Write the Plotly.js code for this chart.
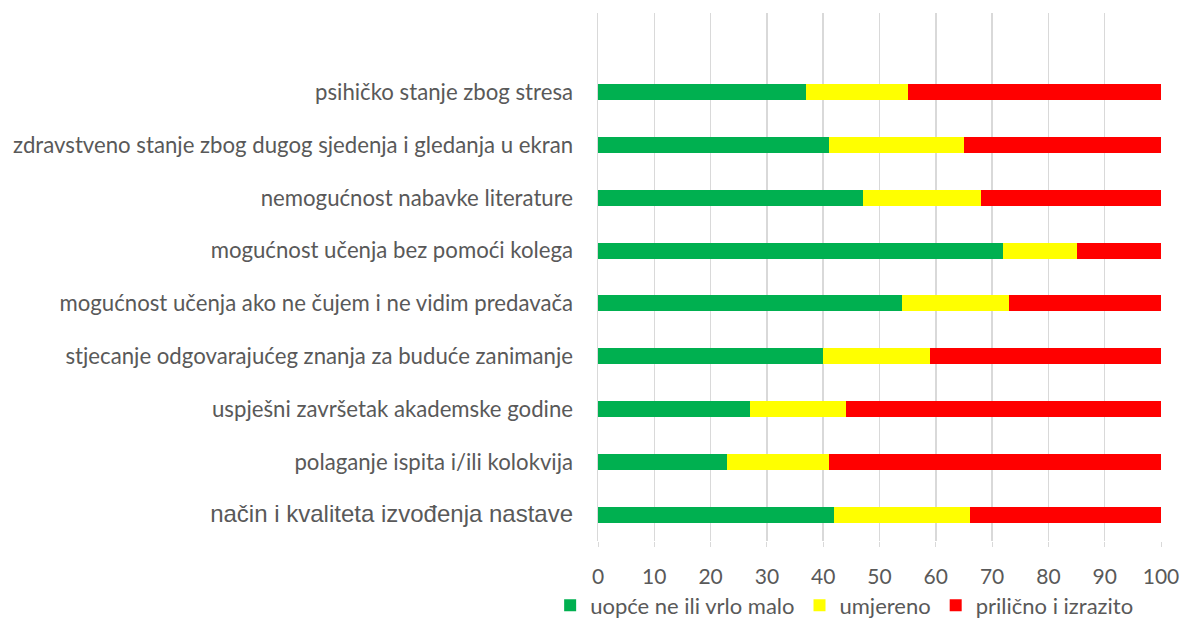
<!DOCTYPE html>
<html><head><meta charset="utf-8">
<script src="https://cdn.plot.ly/plotly-3.0.1.min.js"></script>
<style>html,body{margin:0;padding:0;background:#fff}#chart{width:1186px;height:620px}</style>
</head><body><div id="chart"></div>
<script>
const categories = [
  'način i kvaliteta izvođenja nastave',
  'polaganje ispita i/ili kolokvija',
  'uspješni završetak akademske godine',
  'stjecanje odgovarajućeg znanja za buduće zanimanje',
  'mogućnost učenja ako ne čujem i ne vidim predavača',
  'mogućnost učenja bez pomoći kolega',
  'nemogućnost nabavke literature',
  'zdravstveno stanje zbog dugog sjedenja i gledanja u ekran',
  'psihičko stanje zbog stresa'
];
const lowValues      = [42, 23, 27, 40, 54, 72, 47, 41, 37];
const moderateValues = [24, 18, 17, 19, 19, 13, 21, 24, 18];
const highValues     = [34, 59, 56, 41, 27, 15, 32, 35, 45];
const seriesNames = ['uopće ne ili vrlo malo', 'umjereno', 'prilično i izrazito'];
const tickVals = [0,10,20,30,40,50,60,70,80,90,100];

const colors = ['#00B050', '#FFFF00', '#FF0000'];
const data = [lowValues, moderateValues, highValues].map((vals, i) => ({
  type: 'bar', orientation: 'h', name: seriesNames[i],
  x: vals, y: categories, width: 0.3,
  marker: {color: colors[i]}, hoverinfo: 'x+y'
}));

// the bottom category label uses a different typeface in the reference
const tickText = categories.map((c, i) =>
  i === 0 ? '<span style="font-family:Liberation Sans;font-size:24px">' + c + '</span>' : c);

const layout = {
  width: 1186, height: 620,
  margin: {l: 598, r: 25, t: 13, b: 79, autoexpand: false},
  barmode: 'stack',
  paper_bgcolor: '#fff', plot_bgcolor: '#fff',
  font: {family: 'Lato, "Open Sans", sans-serif', color: '#595959', size: 22},
  xaxis: {
    range: [0, 100], tickvals: tickVals, ticktext: tickVals.map(String),
    showgrid: true, gridcolor: '#d9d9d9', gridwidth: 1.5,
    zeroline: false, showline: false,
    ticks: 'outside', ticklen: 5, tickcolor: '#d9d9d9', tickwidth: 1,
    ticklabelstandoff: 12,
    tickfont: {size: 21, color: '#595959'}, fixedrange: true
  },
  yaxis: {
    type: 'category', categoryorder: 'array', categoryarray: categories,
    tickvals: categories, ticktext: tickText,
    range: [-0.5, 9.5], showgrid: false, zeroline: false,
    showline: true, linecolor: '#d9d9d9', linewidth: 1.5,
    ticks: '', ticklabelstandoff: 19,
    tickfont: {size: 22.2, color: '#595959'}, fixedrange: true
  },
  showlegend: true,
  legend: {
    orientation: 'h', x: -0.085, xanchor: 'left', xref: 'paper',
    y: -0.122, yanchor: 'middle', yref: 'paper',
    bgcolor: 'rgba(0,0,0,0)',
    font: {size: 22, color: '#595959'}, traceorder: 'normal',
    itemwidth: 30, tracegroupgap: 0
  }
};
Plotly.newPlot('chart', data, layout, {displayModeBar: false, staticPlot: true});
</script></body></html>
